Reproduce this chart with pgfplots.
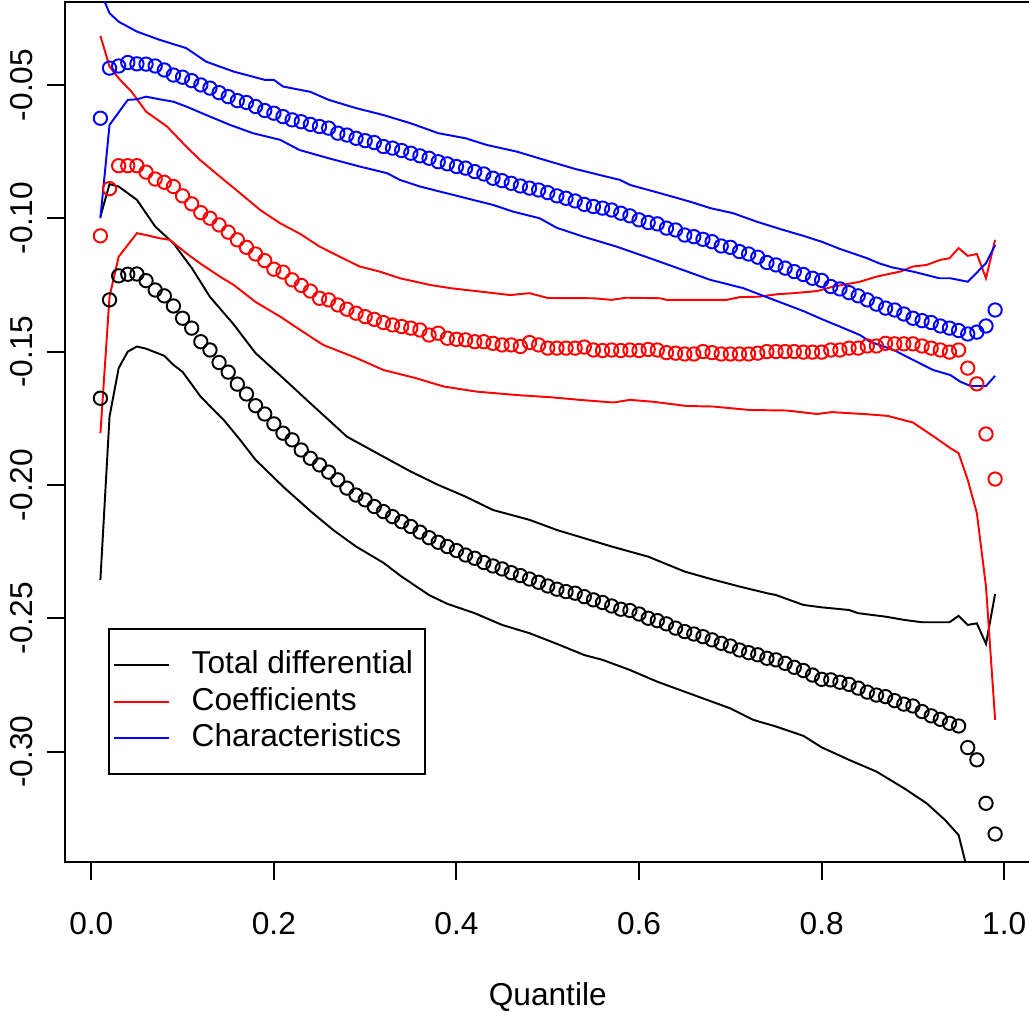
\documentclass[border=0pt]{standalone}
\usepackage{fontspec}
\setmainfont{Liberation Sans}
\usepackage{pgfplots}
\pgfplotsset{compat=1.18}
\usepackage{pgfplotstable}

% point estimates by quantile: total differential, coefficients, characteristics
\pgfplotstableread{
q tot coef char
0.01 -0.1675 -0.1066 -0.0625
0.02 -0.1306 -0.0889 -0.0437
0.03 -0.1216 -0.0803 -0.0429
0.04 -0.1210 -0.0803 -0.0416
0.05 -0.1209 -0.0803 -0.0421
0.06 -0.1234 -0.0827 -0.0422
0.07 -0.1269 -0.0853 -0.0429
0.08 -0.1291 -0.0865 -0.0444
0.09 -0.1329 -0.0881 -0.0463
0.10 -0.1375 -0.0916 -0.0471
0.11 -0.1412 -0.0946 -0.0484
0.12 -0.1463 -0.0979 -0.0500
0.13 -0.1494 -0.1000 -0.0512
0.14 -0.1541 -0.1025 -0.0529
0.15 -0.1577 -0.1052 -0.0544
0.16 -0.1622 -0.1081 -0.0559
0.17 -0.1659 -0.1109 -0.0566
0.18 -0.1703 -0.1134 -0.0581
0.19 -0.1734 -0.1159 -0.0596
0.20 -0.1771 -0.1191 -0.0606
0.21 -0.1806 -0.1202 -0.0619
0.22 -0.1831 -0.1231 -0.0631
0.23 -0.1869 -0.1252 -0.0638
0.24 -0.1900 -0.1273 -0.0648
0.25 -0.1925 -0.1300 -0.0656
0.26 -0.1952 -0.1306 -0.0662
0.27 -0.1981 -0.1325 -0.0681
0.28 -0.2012 -0.1341 -0.0688
0.29 -0.2038 -0.1356 -0.0700
0.30 -0.2056 -0.1369 -0.0709
0.31 -0.2081 -0.1379 -0.0716
0.32 -0.2100 -0.1391 -0.0731
0.33 -0.2119 -0.1400 -0.0737
0.34 -0.2138 -0.1406 -0.0746
0.35 -0.2156 -0.1412 -0.0756
0.36 -0.2177 -0.1419 -0.0766
0.37 -0.2198 -0.1438 -0.0775
0.38 -0.2215 -0.1431 -0.0788
0.39 -0.2231 -0.1450 -0.0796
0.40 -0.2246 -0.1454 -0.0806
0.41 -0.2263 -0.1456 -0.0812
0.42 -0.2275 -0.1463 -0.0825
0.43 -0.2291 -0.1463 -0.0834
0.44 -0.2304 -0.1469 -0.0850
0.45 -0.2315 -0.1475 -0.0859
0.46 -0.2329 -0.1475 -0.0869
0.47 -0.2340 -0.1481 -0.0879
0.48 -0.2353 -0.1466 -0.0887
0.49 -0.2365 -0.1475 -0.0894
0.50 -0.2379 -0.1487 -0.0904
0.51 -0.2391 -0.1487 -0.0916
0.52 -0.2400 -0.1487 -0.0925
0.53 -0.2406 -0.1487 -0.0935
0.54 -0.2419 -0.1483 -0.0948
0.55 -0.2431 -0.1494 -0.0956
0.56 -0.2441 -0.1496 -0.0962
0.57 -0.2454 -0.1494 -0.0969
0.58 -0.2466 -0.1496 -0.0981
0.59 -0.2471 -0.1494 -0.0991
0.60 -0.2484 -0.1496 -0.1006
0.61 -0.2500 -0.1492 -0.1016
0.62 -0.2509 -0.1494 -0.1021
0.63 -0.2521 -0.1504 -0.1037
0.64 -0.2537 -0.1506 -0.1044
0.65 -0.2550 -0.1509 -0.1063
0.66 -0.2559 -0.1509 -0.1069
0.67 -0.2569 -0.1500 -0.1079
0.68 -0.2581 -0.1504 -0.1088
0.69 -0.2594 -0.1509 -0.1104
0.70 -0.2604 -0.1509 -0.1109
0.71 -0.2619 -0.1509 -0.1125
0.72 -0.2629 -0.1509 -0.1134
0.73 -0.2637 -0.1506 -0.1146
0.74 -0.2650 -0.1500 -0.1166
0.75 -0.2656 -0.1500 -0.1175
0.76 -0.2669 -0.1500 -0.1187
0.77 -0.2684 -0.1500 -0.1200
0.78 -0.2696 -0.1502 -0.1211
0.79 -0.2713 -0.1502 -0.1225
0.80 -0.2729 -0.1502 -0.1233
0.81 -0.2731 -0.1494 -0.1256
0.82 -0.2740 -0.1494 -0.1265
0.83 -0.2748 -0.1487 -0.1279
0.84 -0.2762 -0.1487 -0.1291
0.85 -0.2777 -0.1479 -0.1306
0.86 -0.2788 -0.1479 -0.1322
0.87 -0.2794 -0.1469 -0.1337
0.88 -0.2809 -0.1471 -0.1344
0.89 -0.2822 -0.1471 -0.1359
0.90 -0.2829 -0.1471 -0.1375
0.91 -0.2850 -0.1479 -0.1384
0.92 -0.2866 -0.1487 -0.1391
0.93 -0.2879 -0.1494 -0.1404
0.94 -0.2894 -0.1502 -0.1412
0.95 -0.2904 -0.1494 -0.1421
0.96 -0.2985 -0.1562 -0.1434
0.97 -0.3031 -0.1621 -0.1427
0.98 -0.3194 -0.1809 -0.1404
0.99 -0.3309 -0.1978 -0.1344
}\est

\begin{document}
\begin{tikzpicture}[x=1pt,y=1pt]
\useasboundingbox (-23.26,-54.0) rectangle (347.18,310.32);
\begin{axis}[
  at={(0pt,0pt)}, anchor=south west,
  scale only axis, width=347.87pt, height=309.7pt,
  xmin=-0.0292, xmax=1.0292, ymin=-0.3414, ymax=-0.0188,
  axis line style={line width=0.7pt},
  tick align=outside, tick pos=left,
  major tick length=6.5pt,
  every tick/.style={black, line width=0.7pt},
  xtick={0,0.2,0.4,0.6,0.8,1.0},
  xticklabels={0.0,0.2,0.4,0.6,0.8,1.0},
  ytick={-0.30,-0.25,-0.20,-0.15,-0.10,-0.05},
  yticklabels={-0.30,-0.25,-0.20,-0.15,-0.10,-0.05},
  tick label style={font=\fontsize{11.4}{13.5}\selectfont},
  xticklabel style={anchor=north, inner sep=0pt, yshift=-11.6pt},
  yticklabel style={inner sep=0pt, xshift=-4.9pt, rotate=90, anchor=base},
  xlabel={Quantile},
  xlabel style={at={(axis description cs:0.5,0)}, anchor=base, inner sep=0pt,
    yshift=-51.8pt, font=\fontsize{11.4}{13.5}\selectfont},
  legend style={at={(0.0446,0.2716)}, anchor=north west,
    draw=black, fill=white, line width=0.7pt,
    inner xsep=1.4pt, inner ysep=8pt, row sep=3.1pt, column sep=8pt,
    font=\fontsize{11.4}{13.5}\selectfont,
    nodes={inner sep=0pt, text height=8pt, text depth=2pt}},
  legend cell align=left,
  legend image code/.code={\draw[#1] (0pt,0pt) -- (19.8pt,0pt);},
  every axis plot/.append style={line width=0.7pt},
]
\addlegendimage{black}
\addlegendentry{Total differential\kern3pt}
\addlegendimage{red}
\addlegendentry{Coefficients}
\addlegendimage{blue}
\addlegendentry{Characteristics}

% circles: point estimates
\addplot[black, only marks, mark=o, mark size=2.4pt, forget plot] table[x=q, y=tot] {\est};
\addplot[red, only marks, mark=o, mark size=2.4pt, forget plot] table[x=q, y=coef] {\est};
\addplot[blue, only marks, mark=o, mark size=2.4pt, forget plot] table[x=q, y=char] {\est};

% total differential bands
\addplot[black, no markers, forget plot] coordinates {(0.01,-0.0994)(0.02,-0.0872)(0.03,-0.0881)(0.05,-0.0931)(0.07,-0.1031)(0.09,-0.1094)(0.11,-0.1186)(0.13,-0.1295)(0.155,-0.1394)(0.18,-0.1506)(0.21,-0.1599)(0.24,-0.1694)(0.25,-0.1725)(0.28,-0.1819)(0.32,-0.1894)(0.35,-0.1950)(0.38,-0.2000)(0.41,-0.2044)(0.44,-0.2094)(0.48,-0.2131)(0.51,-0.2169)(0.54,-0.2200)(0.57,-0.2231)(0.61,-0.2269)(0.65,-0.2325)(0.68,-0.2354)(0.71,-0.2381)(0.74,-0.2406)(0.75,-0.2413)(0.78,-0.2450)(0.80,-0.2459)(0.83,-0.2469)(0.84,-0.2481)(0.87,-0.2494)(0.89,-0.2506)(0.91,-0.2515)(0.94,-0.2515)(0.95,-0.2491)(0.96,-0.2525)(0.97,-0.2519)(0.98,-0.2596)(0.99,-0.2409)};
\addplot[black, no markers, forget plot] coordinates {(0.01,-0.2356)(0.02,-0.1744)(0.03,-0.1562)(0.04,-0.1500)(0.05,-0.1481)(0.06,-0.1489)(0.08,-0.1516)(0.09,-0.1550)(0.10,-0.1576)(0.12,-0.1670)(0.145,-0.1756)(0.163,-0.1831)(0.18,-0.1906)(0.21,-0.2006)(0.24,-0.2098)(0.265,-0.2169)(0.29,-0.2231)(0.32,-0.2292)(0.34,-0.2344)(0.37,-0.2413)(0.39,-0.2446)(0.42,-0.2481)(0.45,-0.2525)(0.48,-0.2556)(0.51,-0.2596)(0.54,-0.2638)(0.56,-0.2656)(0.59,-0.2694)(0.62,-0.2738)(0.66,-0.2788)(0.70,-0.2838)(0.725,-0.2881)(0.75,-0.2906)(0.78,-0.2941)(0.80,-0.2984)(0.83,-0.3031)(0.86,-0.3075)(0.89,-0.3137)(0.915,-0.3194)(0.935,-0.3256)(0.95,-0.3313)(0.96,-0.3450)(0.97,-0.3700)(0.98,-0.4000)(0.99,-0.4300)};

% coefficient bands
\addplot[red, no markers, forget plot] coordinates {(0.01,-0.0316)(0.02,-0.0431)(0.03,-0.0475)(0.044,-0.0525)(0.06,-0.0600)(0.083,-0.0656)(0.104,-0.0731)(0.119,-0.0781)(0.141,-0.0844)(0.163,-0.0906)(0.185,-0.0969)(0.207,-0.1019)(0.229,-0.1059)(0.25,-0.1106)(0.272,-0.1144)(0.294,-0.1181)(0.316,-0.1200)(0.338,-0.1225)(0.371,-0.1250)(0.393,-0.1262)(0.426,-0.1275)(0.459,-0.1288)(0.48,-0.1281)(0.50,-0.1299)(0.55,-0.1300)(0.57,-0.1306)(0.586,-0.1298)(0.623,-0.1300)(0.63,-0.1306)(0.696,-0.1306)(0.71,-0.1296)(0.732,-0.1294)(0.751,-0.1285)(0.769,-0.1281)(0.795,-0.1273)(0.813,-0.1256)(0.842,-0.1238)(0.86,-0.1219)(0.886,-0.1200)(0.90,-0.1181)(0.915,-0.1175)(0.93,-0.1156)(0.94,-0.1150)(0.95,-0.1112)(0.96,-0.1141)(0.97,-0.1134)(0.98,-0.1225)(0.99,-0.1081)};
\addplot[red, no markers, forget plot] coordinates {(0.01,-0.1806)(0.02,-0.1294)(0.03,-0.1144)(0.05,-0.1056)(0.06,-0.1063)(0.075,-0.1075)(0.086,-0.1081)(0.104,-0.1131)(0.12,-0.1171)(0.141,-0.1219)(0.156,-0.1250)(0.18,-0.1314)(0.207,-0.1369)(0.24,-0.1444)(0.254,-0.1475)(0.291,-0.1525)(0.32,-0.1569)(0.356,-0.1600)(0.386,-0.1631)(0.422,-0.1650)(0.466,-0.1663)(0.502,-0.1671)(0.535,-0.1681)(0.572,-0.1691)(0.59,-0.1681)(0.615,-0.1688)(0.652,-0.1704)(0.681,-0.1706)(0.721,-0.1719)(0.762,-0.1721)(0.795,-0.1734)(0.811,-0.1727)(0.85,-0.1735)(0.872,-0.1741)(0.90,-0.1766)(0.923,-0.1819)(0.941,-0.1862)(0.95,-0.1881)(0.96,-0.1981)(0.97,-0.2106)(0.98,-0.2381)(0.99,-0.2881)};

% characteristics bands
\addplot[blue, no markers, forget plot] coordinates {(0.01,-0.0151)(0.02,-0.0231)(0.03,-0.0263)(0.05,-0.0300)(0.075,-0.0331)(0.104,-0.0362)(0.126,-0.0413)(0.156,-0.0450)(0.19,-0.0481)(0.20,-0.0481)(0.21,-0.0506)(0.24,-0.0526)(0.26,-0.0556)(0.29,-0.0587)(0.32,-0.0613)(0.35,-0.0644)(0.38,-0.0681)(0.41,-0.0700)(0.433,-0.0725)(0.466,-0.0750)(0.50,-0.0785)(0.53,-0.0815)(0.557,-0.0838)(0.579,-0.0856)(0.59,-0.0875)(0.623,-0.0906)(0.656,-0.0938)(0.678,-0.0962)(0.703,-0.0981)(0.729,-0.1013)(0.758,-0.1044)(0.78,-0.1066)(0.80,-0.1088)(0.82,-0.1115)(0.849,-0.1149)(0.863,-0.1169)(0.877,-0.1184)(0.90,-0.1200)(0.929,-0.1225)(0.941,-0.1225)(0.96,-0.1238)(0.98,-0.1169)(0.99,-0.1100)};
\addplot[blue, no markers, forget plot] coordinates {(0.01,-0.1000)(0.02,-0.0650)(0.04,-0.0556)(0.05,-0.0554)(0.06,-0.0544)(0.075,-0.0554)(0.09,-0.0563)(0.104,-0.0581)(0.126,-0.0613)(0.152,-0.0650)(0.177,-0.0681)(0.207,-0.0706)(0.228,-0.0744)(0.26,-0.0775)(0.294,-0.0806)(0.324,-0.0831)(0.338,-0.0856)(0.36,-0.0881)(0.382,-0.0900)(0.411,-0.0925)(0.44,-0.0950)(0.462,-0.0975)(0.491,-0.1000)(0.51,-0.1036)(0.539,-0.1069)(0.575,-0.1106)(0.612,-0.1150)(0.648,-0.1194)(0.678,-0.1231)(0.714,-0.1262)(0.743,-0.1300)(0.78,-0.1348)(0.80,-0.1378)(0.824,-0.1412)(0.842,-0.1438)(0.853,-0.1463)(0.879,-0.1494)(0.90,-0.1531)(0.922,-0.1569)(0.941,-0.1588)(0.952,-0.1613)(0.963,-0.1629)(0.98,-0.1629)(0.99,-0.1591)};
\end{axis}
\end{tikzpicture}
\end{document}
